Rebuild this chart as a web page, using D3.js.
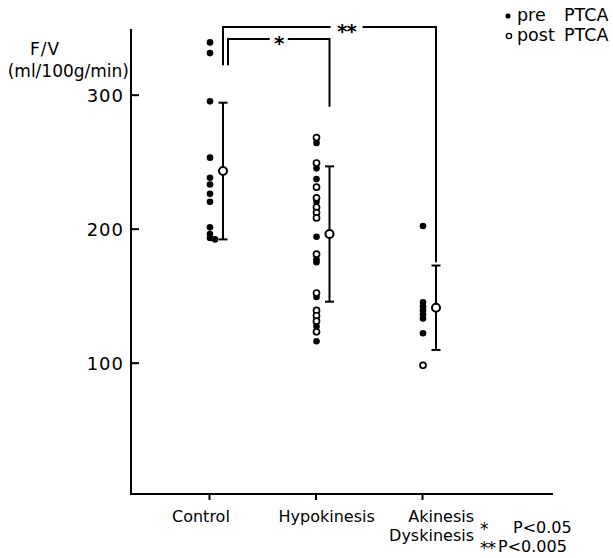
<!DOCTYPE html>
<html>
<head>
<meta charset="utf-8">
<script src="https://cdn.jsdelivr.net/npm/d3@7"></script>
<style>
  html, body { margin: 0; padding: 0; background: #fff; }
  svg { display: block; }
  text { font-family: "DejaVu Sans", sans-serif; fill: #000; }
</style>
</head>
<body>
<svg id="chart" width="613" height="558"></svg>
<script>
// ---- data ----
const categories = ["Control", "Hypokinesis", "Akinesis"];
const categoryLabels = [["Control"], ["Hypokinesis"], ["Akinesis", "Dyskinesis"]];
const preValues = [
  [339, 331, 295, 253, 238, 233, 226, 220, 201, 196, 193, 192],
  [264, 245, 237, 220, 194, 177, 175, 149, 127, 116],
  [202, 145, 142, 139, 136, 133, 122]
];
const postValues = [
  [],
  [268, 249, 231, 223, 216, 212, 208, 181, 152, 139, 135, 131, 123],
  [98]
];
const means = [243, 196, 141];
const sds = [51, 50.5, 31.5];
const yTicks = [100, 200, 300];
const brackets = [
  { from: 0, to: 1, label: "*", top: 341.5, leftEnd: 322, rightEnd: 291, legDx: 5, labelAt: 0.5 },
  { from: 0, to: 2, label: "**", top: 350.5, leftEnd: 322, rightEnd: 175, legDx: 0, labelAt: 0.58 }
];
const legendItems = [
  { label: "pre", filled: true },
  { label: "post", filled: false }
];
const sigNotes = [["*", "P<0.05"], ["**", "P<0.005"]];

// ---- layout ----
const svg = d3.select("#chart");
const axisX0 = 131, axisX1 = 553;
const y = d3.scaleLinear().domain([2, 349]).range([494, 29]);
const x = d3.scalePoint().domain(categories).range([209, 422]);
const barDx = 14, dotDx = 1;

// y axis
const yAxis = d3.axisRight(y).tickValues(yTicks).tickSize(8).tickFormat("");
const gy = svg.append("g").attr("transform", `translate(${axisX0},0)`).call(yAxis);
gy.select(".domain").attr("d", `M0,${y(349)}V${y(2)}`).attr("stroke", "#000").attr("stroke-width", 2);
gy.selectAll(".tick line").attr("stroke", "#000").attr("stroke-width", 2);
svg.selectAll(".ylab").data(yTicks).join("text")
  .attr("x", 124).attr("y", d => y(d) + 7)
  .attr("text-anchor", "end").attr("font-size", 18).attr("letter-spacing", 1)
  .text(d => d);

// x axis
const xAxis = d3.axisBottom(x).tickSize(6).tickFormat("");
const gx = svg.append("g").attr("transform", `translate(0,${y(2)})`).call(xAxis);
gx.select(".domain").attr("d", `M${axisX0 - 1},0H${axisX1}`).attr("stroke", "#000").attr("stroke-width", 2);
gx.selectAll(".tick line").attr("stroke", "#000").attr("stroke-width", 2);

// category labels
categoryLabels.forEach((lines, i) => {
  const cx = x(categories[i]);
  const t = svg.append("text").attr("font-size", 16);
  if (lines.length === 1) {
    t.attr("x", cx - 37).attr("y", 522).attr("text-anchor", "start").text(lines[0]);
  } else {
    lines.forEach((ln, j) => {
      t.append("tspan").attr("x", cx + 52).attr("y", 522 + j * 19)
        .attr("text-anchor", "end").text(ln);
    });
  }
});

// y title
svg.append("text").attr("x", 45).attr("y", 55).attr("text-anchor", "middle")
  .attr("font-size", 17).attr("letter-spacing", 1).text("F/V");
svg.append("text").attr("x", 129).attr("y", 77).attr("text-anchor", "end")
  .attr("font-size", 17).text("(ml/100g/min)");

// points
function withShift(vals) {
  return vals.map((v, k) => ({ v, shift: k > 0 && Math.abs(vals[k - 1] - v) < 1.5 ? 5 : 0 }));
}
categories.forEach((c, i) => {
  const cx = x(c) + dotDx;
  svg.append("g").selectAll("circle").data(withShift(preValues[i])).join("circle")
    .attr("cx", d => cx + d.shift).attr("cy", d => y(d.v)).attr("r", 3.3).attr("fill", "#000");
  svg.append("g").selectAll("circle").data(withShift(postValues[i])).join("circle")
    .attr("cx", d => cx + d.shift).attr("cy", d => y(d.v)).attr("r", 3)
    .attr("fill", "#fff").attr("stroke", "#000").attr("stroke-width", 1.7);
});

// error bars
categories.forEach((c, i) => {
  const bx = x(c) + barDx;
  const g = svg.append("g").attr("stroke", "#000").attr("stroke-width", 2);
  const hi = y(means[i] + sds[i]), lo = y(means[i] - sds[i]);
  g.append("line").attr("x1", bx).attr("x2", bx).attr("y1", hi).attr("y2", lo);
  g.append("line").attr("x1", bx - 4.5).attr("x2", bx + 4.5).attr("y1", hi).attr("y2", hi);
  g.append("line").attr("x1", bx - 4.5).attr("x2", bx + 4.5).attr("y1", lo).attr("y2", lo);
  svg.append("circle").attr("cx", bx).attr("cy", y(means[i])).attr("r", 4)
    .attr("fill", "#fff").attr("stroke", "#000").attr("stroke-width", 2);
});

// significance brackets
brackets.forEach(b => {
  const lx = x(categories[b.from]) + barDx + b.legDx;
  const rx = x(categories[b.to]) + barDx;
  const ty = y(b.top);
  const mid = lx + (rx - lx) * b.labelAt;
  const gap = b.label.length * 7 + 2;
  const p = d3.path();
  p.moveTo(lx, y(b.leftEnd)); p.lineTo(lx, ty); p.lineTo(mid - gap, ty);
  p.moveTo(mid + gap, ty); p.lineTo(rx, ty); p.lineTo(rx, y(b.rightEnd));
  svg.append("path").attr("d", p.toString()).attr("fill", "none")
    .attr("stroke", "#000").attr("stroke-width", 2);
  svg.append("text").attr("x", mid).attr("y", ty + 11).attr("text-anchor", "middle")
    .attr("font-size", 20).attr("font-weight", "bold").attr("letter-spacing", -1).text(b.label);
});

// legend
legendItems.forEach((d, i) => {
  const ly = 21 + i * 20;
  if (d.filled) {
    svg.append("circle").attr("cx", 508).attr("cy", ly - 5).attr("r", 2.6).attr("fill", "#000");
  } else {
    svg.append("circle").attr("cx", 509).attr("cy", ly - 5).attr("r", 2.6)
      .attr("fill", "#fff").attr("stroke", "#000").attr("stroke-width", 1.4);
  }
  svg.append("text").attr("x", 517).attr("y", ly).attr("font-size", 17.5).text(d.label);
  svg.append("text").attr("x", 564).attr("y", ly).attr("font-size", 17.5).text("PTCA");
});

// significance notes (one text per row)
sigNotes.forEach((d, i) => {
  const ny = 533 + i * 19;
  const t = svg.append("text").attr("y", ny).attr("font-size", 16);
  t.append("tspan").attr("x", 480).attr("dy", 2).attr("font-size", 17)
    .attr("letter-spacing", -1).text(d[0]);
  t.append("tspan").attr("x", i === 0 ? 513 : 498).attr("dy", -2).text(d[1]);
});
</script>
</body>
</html>
